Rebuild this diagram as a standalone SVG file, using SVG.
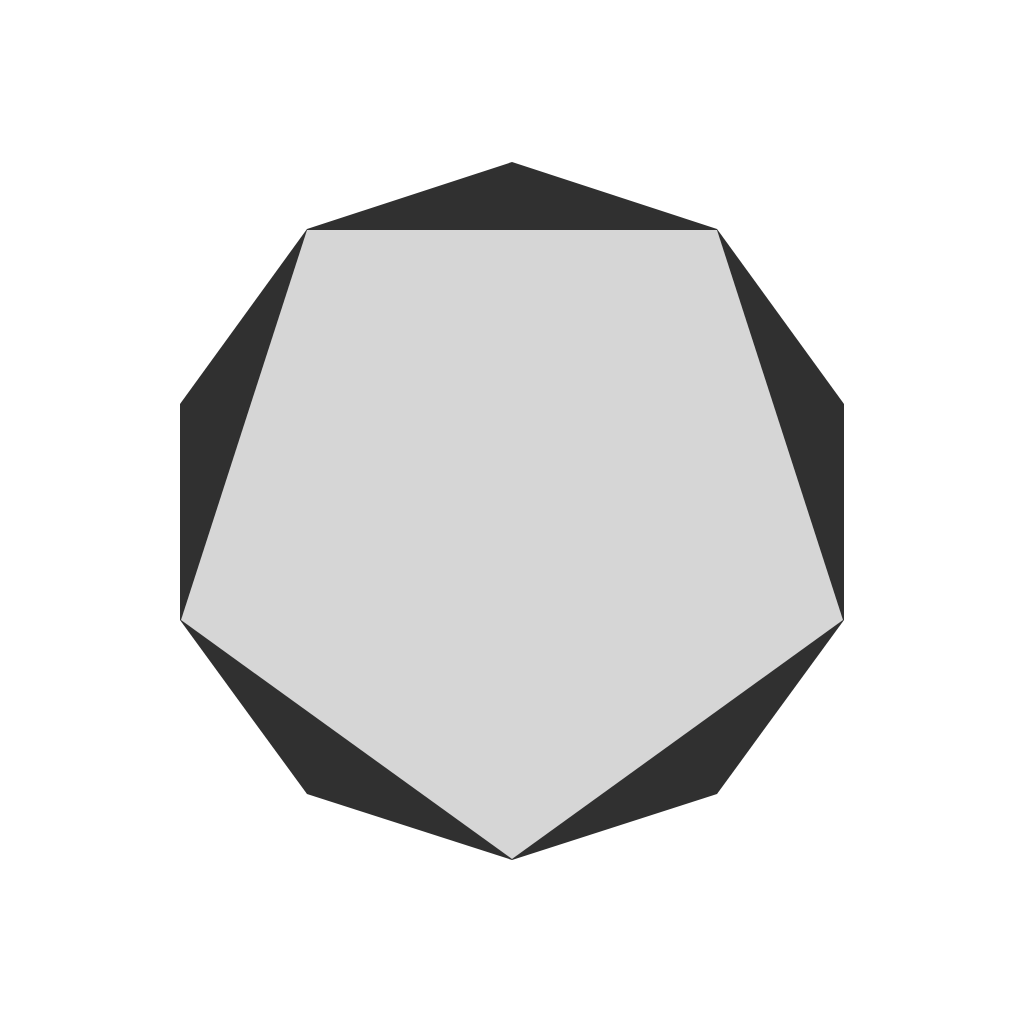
<svg xmlns="http://www.w3.org/2000/svg" width="1024" height="1024" viewBox="0 0 1024 1024">
<rect width="1024" height="1024" fill="#ffffff"/>
<polygon points="512,162 717,229 844,404 844,620 717,794 512,860 307,794 180,620 180,404 307,229" fill="#303030"/>
<polygon points="307,230 717,230 843,620 512,859 181,620" fill="#d6d6d6"/>
</svg>
